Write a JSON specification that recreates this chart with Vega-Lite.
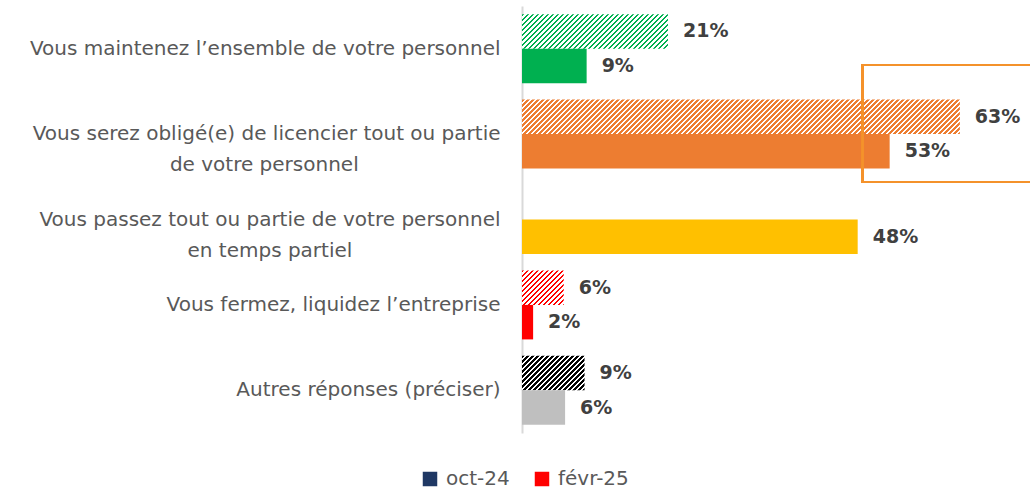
{
  "$schema": "https://vega.github.io/schema/vega-lite/v6.json",
  "autosize": "none",
  "width": 486.5,
  "height": 427,
  "padding": {"left": 522, "top": 6, "right": 21.5, "bottom": 56},
  "background": "white",
  "config": {"view": {"stroke": null}},
  "data": {"values": [
    {"c": "Vous maintenez l’ensemble de votre personnel", "s": "oct-24", "v": 0.21},
    {"c": "Vous maintenez l’ensemble de votre personnel", "s": "févr-25", "v": 0.093},
    {"c": "Vous serez obligé(e) de licencier tout ou partie de votre personnel", "s": "oct-24", "v": 0.63},
    {"c": "Vous serez obligé(e) de licencier tout ou partie de votre personnel", "s": "févr-25", "v": 0.529},
    {"c": "Vous passez tout ou partie de votre personnel en temps partiel", "s": "févr-25", "v": 0.483},
    {"c": "Vous fermez, liquidez l’entreprise", "s": "oct-24", "v": 0.06},
    {"c": "Vous fermez, liquidez l’entreprise", "s": "févr-25", "v": 0.016},
    {"c": "Autres réponses (préciser)", "s": "oct-24", "v": 0.09},
    {"c": "Autres réponses (préciser)", "s": "févr-25", "v": 0.062}
  ]},
  "layer": [
    {
      "mark": {"type": "bar"},
      "encoding": {
        "y": {"field": "c", "type": "nominal", "sort": null, "title": null,
          "scale": {"domain": ["Vous maintenez l’ensemble de votre personnel", "Vous serez obligé(e) de licencier tout ou partie de votre personnel", "Vous passez tout ou partie de votre personnel en temps partiel", "Vous fermez, liquidez l’entreprise", "Autres réponses (préciser)"], "paddingInner": 0.192, "paddingOuter": 0.096},
          "axis": {"title": null, "domainColor": "#d9d9d9", "domainWidth": 2, "ticks": false, "tickSize": 0, "labelPadding": 22, "labelFont": "DejaVu Sans", "labelFontSize": 20, "labelColor": "#595959", "labelLineHeight": 31, "labelLimit": 0,
            "labelExpr": "datum.value === 'Vous serez obligé(e) de licencier tout ou partie de votre personnel' ? ['Vous serez obligé(e) de licencier tout ou partie', 'de votre personnel\u00a0\u00a0\u00a0\u00a0\u00a0\u00a0\u00a0\u00a0\u00a0\u00a0\u00a0\u00a0\u00a0\u00a0\u00a0\u00a0\u00a0\u00a0\u00a0\u00a0\u2800'] : datum.value === 'Vous passez tout ou partie de votre personnel en temps partiel' ? ['Vous passez tout ou partie de votre personnel', 'en temps partiel\u00a0\u00a0\u00a0\u00a0\u00a0\u00a0\u00a0\u00a0\u00a0\u00a0\u00a0\u00a0\u00a0\u00a0\u00a0\u00a0\u00a0\u00a0\u00a0\u00a0\u00a0\u2800'] : datum.value"}},
        "yOffset": {"field": "s", "type": "nominal", "scale": {"domain": ["oct-24", "févr-25"]}},
        "x": {"field": "v", "type": "quantitative", "scale": {"domain": [0, 0.7], "nice": false}, "axis": null},
        "fill": {
          "condition": [
            {"test": "datum.s === 'oct-24' && datum.c === 'Vous maintenez l’ensemble de votre personnel'", "value": {"gradient": "linear", "x1": 0, "y1": 0, "x2": 3.2445, "y2": 0.767, "stops": [
              {"offset":0,"color":"#00b050"},{"offset":0.005,"color":"#00b050"},{"offset":0.005,"color":"#fff"},{"offset":0.01,"color":"#fff"},
              {"offset":0.01,"color":"#00b050"},{"offset":0.015,"color":"#00b050"},{"offset":0.015,"color":"#fff"},{"offset":0.02,"color":"#fff"},
              {"offset":0.02,"color":"#00b050"},{"offset":0.025,"color":"#00b050"},{"offset":0.025,"color":"#fff"},{"offset":0.03,"color":"#fff"},
              {"offset":0.03,"color":"#00b050"},{"offset":0.035,"color":"#00b050"},{"offset":0.035,"color":"#fff"},{"offset":0.04,"color":"#fff"},
              {"offset":0.04,"color":"#00b050"},{"offset":0.045,"color":"#00b050"},{"offset":0.045,"color":"#fff"},{"offset":0.05,"color":"#fff"},
              {"offset":0.05,"color":"#00b050"},{"offset":0.055,"color":"#00b050"},{"offset":0.055,"color":"#fff"},{"offset":0.06,"color":"#fff"},
              {"offset":0.06,"color":"#00b050"},{"offset":0.065,"color":"#00b050"},{"offset":0.065,"color":"#fff"},{"offset":0.07,"color":"#fff"},
              {"offset":0.07,"color":"#00b050"},{"offset":0.075,"color":"#00b050"},{"offset":0.075,"color":"#fff"},{"offset":0.08,"color":"#fff"},
              {"offset":0.08,"color":"#00b050"},{"offset":0.085,"color":"#00b050"},{"offset":0.085,"color":"#fff"},{"offset":0.09,"color":"#fff"},
              {"offset":0.09,"color":"#00b050"},{"offset":0.095,"color":"#00b050"},{"offset":0.095,"color":"#fff"},{"offset":0.1,"color":"#fff"},
              {"offset":0.1,"color":"#00b050"},{"offset":0.105,"color":"#00b050"},{"offset":0.105,"color":"#fff"},{"offset":0.11,"color":"#fff"},
              {"offset":0.11,"color":"#00b050"},{"offset":0.115,"color":"#00b050"},{"offset":0.115,"color":"#fff"},{"offset":0.12,"color":"#fff"},
              {"offset":0.12,"color":"#00b050"},{"offset":0.125,"color":"#00b050"},{"offset":0.125,"color":"#fff"},{"offset":0.13,"color":"#fff"},
              {"offset":0.13,"color":"#00b050"},{"offset":0.135,"color":"#00b050"},{"offset":0.135,"color":"#fff"},{"offset":0.14,"color":"#fff"},
              {"offset":0.14,"color":"#00b050"},{"offset":0.145,"color":"#00b050"},{"offset":0.145,"color":"#fff"},{"offset":0.15,"color":"#fff"},
              {"offset":0.15,"color":"#00b050"},{"offset":0.155,"color":"#00b050"},{"offset":0.155,"color":"#fff"},{"offset":0.16,"color":"#fff"},
              {"offset":0.16,"color":"#00b050"},{"offset":0.165,"color":"#00b050"},{"offset":0.165,"color":"#fff"},{"offset":0.17,"color":"#fff"},
              {"offset":0.17,"color":"#00b050"},{"offset":0.175,"color":"#00b050"},{"offset":0.175,"color":"#fff"},{"offset":0.18,"color":"#fff"},
              {"offset":0.18,"color":"#00b050"},{"offset":0.185,"color":"#00b050"},{"offset":0.185,"color":"#fff"},{"offset":0.19,"color":"#fff"},
              {"offset":0.19,"color":"#00b050"},{"offset":0.195,"color":"#00b050"},{"offset":0.195,"color":"#fff"},{"offset":0.2,"color":"#fff"},
              {"offset":0.2,"color":"#00b050"},{"offset":0.205,"color":"#00b050"},{"offset":0.205,"color":"#fff"},{"offset":0.21,"color":"#fff"},
              {"offset":0.21,"color":"#00b050"},{"offset":0.215,"color":"#00b050"},{"offset":0.215,"color":"#fff"},{"offset":0.22,"color":"#fff"},
              {"offset":0.22,"color":"#00b050"},{"offset":0.225,"color":"#00b050"},{"offset":0.225,"color":"#fff"},{"offset":0.23,"color":"#fff"},
              {"offset":0.23,"color":"#00b050"},{"offset":0.235,"color":"#00b050"},{"offset":0.235,"color":"#fff"},{"offset":0.24,"color":"#fff"},
              {"offset":0.24,"color":"#00b050"},{"offset":0.245,"color":"#00b050"},{"offset":0.245,"color":"#fff"},{"offset":0.25,"color":"#fff"},
              {"offset":0.25,"color":"#00b050"},{"offset":0.255,"color":"#00b050"},{"offset":0.255,"color":"#fff"},{"offset":0.26,"color":"#fff"},
              {"offset":0.26,"color":"#00b050"},{"offset":0.265,"color":"#00b050"},{"offset":0.265,"color":"#fff"},{"offset":0.27,"color":"#fff"},
              {"offset":0.27,"color":"#00b050"},{"offset":0.275,"color":"#00b050"},{"offset":0.275,"color":"#fff"},{"offset":0.28,"color":"#fff"},
              {"offset":0.28,"color":"#00b050"},{"offset":0.285,"color":"#00b050"},{"offset":0.285,"color":"#fff"},{"offset":0.29,"color":"#fff"},
              {"offset":0.29,"color":"#00b050"},{"offset":0.295,"color":"#00b050"},{"offset":0.295,"color":"#fff"},{"offset":0.3,"color":"#fff"},
              {"offset":0.3,"color":"#00b050"},{"offset":0.305,"color":"#00b050"},{"offset":0.305,"color":"#fff"},{"offset":0.31,"color":"#fff"},
              {"offset":0.31,"color":"#00b050"},{"offset":0.315,"color":"#00b050"},{"offset":0.315,"color":"#fff"},{"offset":0.32,"color":"#fff"},
              {"offset":0.32,"color":"#00b050"},{"offset":0.325,"color":"#00b050"},{"offset":0.325,"color":"#fff"},{"offset":0.33,"color":"#fff"},
              {"offset":0.33,"color":"#00b050"},{"offset":0.335,"color":"#00b050"},{"offset":0.335,"color":"#fff"},{"offset":0.34,"color":"#fff"},
              {"offset":0.34,"color":"#00b050"},{"offset":0.345,"color":"#00b050"},{"offset":0.345,"color":"#fff"},{"offset":0.35,"color":"#fff"},
              {"offset":0.35,"color":"#00b050"},{"offset":0.355,"color":"#00b050"},{"offset":0.355,"color":"#fff"},{"offset":0.36,"color":"#fff"},
              {"offset":0.36,"color":"#00b050"},{"offset":0.365,"color":"#00b050"},{"offset":0.365,"color":"#fff"},{"offset":0.37,"color":"#fff"}
            ]}},
            {"test": "datum.s === 'oct-24' && datum.c === 'Vous serez obligé(e) de licencier tout ou partie de votre personnel'", "value": {"gradient": "linear", "x1": 0, "y1": 0, "x2": 1.1349, "y2": 0.0894, "stops": [
              {"offset":0,"color":"#ed7d31"},{"offset":0.005,"color":"#ed7d31"},{"offset":0.005,"color":"#fff"},{"offset":0.01,"color":"#fff"},
              {"offset":0.01,"color":"#ed7d31"},{"offset":0.015,"color":"#ed7d31"},{"offset":0.015,"color":"#fff"},{"offset":0.02,"color":"#fff"},
              {"offset":0.02,"color":"#ed7d31"},{"offset":0.025,"color":"#ed7d31"},{"offset":0.025,"color":"#fff"},{"offset":0.03,"color":"#fff"},
              {"offset":0.03,"color":"#ed7d31"},{"offset":0.035,"color":"#ed7d31"},{"offset":0.035,"color":"#fff"},{"offset":0.04,"color":"#fff"},
              {"offset":0.04,"color":"#ed7d31"},{"offset":0.045,"color":"#ed7d31"},{"offset":0.045,"color":"#fff"},{"offset":0.05,"color":"#fff"},
              {"offset":0.05,"color":"#ed7d31"},{"offset":0.055,"color":"#ed7d31"},{"offset":0.055,"color":"#fff"},{"offset":0.06,"color":"#fff"},
              {"offset":0.06,"color":"#ed7d31"},{"offset":0.065,"color":"#ed7d31"},{"offset":0.065,"color":"#fff"},{"offset":0.07,"color":"#fff"},
              {"offset":0.07,"color":"#ed7d31"},{"offset":0.075,"color":"#ed7d31"},{"offset":0.075,"color":"#fff"},{"offset":0.08,"color":"#fff"},
              {"offset":0.08,"color":"#ed7d31"},{"offset":0.085,"color":"#ed7d31"},{"offset":0.085,"color":"#fff"},{"offset":0.09,"color":"#fff"},
              {"offset":0.09,"color":"#ed7d31"},{"offset":0.095,"color":"#ed7d31"},{"offset":0.095,"color":"#fff"},{"offset":0.1,"color":"#fff"},
              {"offset":0.1,"color":"#ed7d31"},{"offset":0.105,"color":"#ed7d31"},{"offset":0.105,"color":"#fff"},{"offset":0.11,"color":"#fff"},
              {"offset":0.11,"color":"#ed7d31"},{"offset":0.115,"color":"#ed7d31"},{"offset":0.115,"color":"#fff"},{"offset":0.12,"color":"#fff"},
              {"offset":0.12,"color":"#ed7d31"},{"offset":0.125,"color":"#ed7d31"},{"offset":0.125,"color":"#fff"},{"offset":0.13,"color":"#fff"},
              {"offset":0.13,"color":"#ed7d31"},{"offset":0.135,"color":"#ed7d31"},{"offset":0.135,"color":"#fff"},{"offset":0.14,"color":"#fff"},
              {"offset":0.14,"color":"#ed7d31"},{"offset":0.145,"color":"#ed7d31"},{"offset":0.145,"color":"#fff"},{"offset":0.15,"color":"#fff"},
              {"offset":0.15,"color":"#ed7d31"},{"offset":0.155,"color":"#ed7d31"},{"offset":0.155,"color":"#fff"},{"offset":0.16,"color":"#fff"},
              {"offset":0.16,"color":"#ed7d31"},{"offset":0.165,"color":"#ed7d31"},{"offset":0.165,"color":"#fff"},{"offset":0.17,"color":"#fff"},
              {"offset":0.17,"color":"#ed7d31"},{"offset":0.175,"color":"#ed7d31"},{"offset":0.175,"color":"#fff"},{"offset":0.18,"color":"#fff"},
              {"offset":0.18,"color":"#ed7d31"},{"offset":0.185,"color":"#ed7d31"},{"offset":0.185,"color":"#fff"},{"offset":0.19,"color":"#fff"},
              {"offset":0.19,"color":"#ed7d31"},{"offset":0.195,"color":"#ed7d31"},{"offset":0.195,"color":"#fff"},{"offset":0.2,"color":"#fff"},
              {"offset":0.2,"color":"#ed7d31"},{"offset":0.205,"color":"#ed7d31"},{"offset":0.205,"color":"#fff"},{"offset":0.21,"color":"#fff"},
              {"offset":0.21,"color":"#ed7d31"},{"offset":0.215,"color":"#ed7d31"},{"offset":0.215,"color":"#fff"},{"offset":0.22,"color":"#fff"},
              {"offset":0.22,"color":"#ed7d31"},{"offset":0.225,"color":"#ed7d31"},{"offset":0.225,"color":"#fff"},{"offset":0.23,"color":"#fff"},
              {"offset":0.23,"color":"#ed7d31"},{"offset":0.235,"color":"#ed7d31"},{"offset":0.235,"color":"#fff"},{"offset":0.24,"color":"#fff"},
              {"offset":0.24,"color":"#ed7d31"},{"offset":0.245,"color":"#ed7d31"},{"offset":0.245,"color":"#fff"},{"offset":0.25,"color":"#fff"},
              {"offset":0.25,"color":"#ed7d31"},{"offset":0.255,"color":"#ed7d31"},{"offset":0.255,"color":"#fff"},{"offset":0.26,"color":"#fff"},
              {"offset":0.26,"color":"#ed7d31"},{"offset":0.265,"color":"#ed7d31"},{"offset":0.265,"color":"#fff"},{"offset":0.27,"color":"#fff"},
              {"offset":0.27,"color":"#ed7d31"},{"offset":0.275,"color":"#ed7d31"},{"offset":0.275,"color":"#fff"},{"offset":0.28,"color":"#fff"},
              {"offset":0.28,"color":"#ed7d31"},{"offset":0.285,"color":"#ed7d31"},{"offset":0.285,"color":"#fff"},{"offset":0.29,"color":"#fff"},
              {"offset":0.29,"color":"#ed7d31"},{"offset":0.295,"color":"#ed7d31"},{"offset":0.295,"color":"#fff"},{"offset":0.3,"color":"#fff"},
              {"offset":0.3,"color":"#ed7d31"},{"offset":0.305,"color":"#ed7d31"},{"offset":0.305,"color":"#fff"},{"offset":0.31,"color":"#fff"},
              {"offset":0.31,"color":"#ed7d31"},{"offset":0.315,"color":"#ed7d31"},{"offset":0.315,"color":"#fff"},{"offset":0.32,"color":"#fff"},
              {"offset":0.32,"color":"#ed7d31"},{"offset":0.325,"color":"#ed7d31"},{"offset":0.325,"color":"#fff"},{"offset":0.33,"color":"#fff"},
              {"offset":0.33,"color":"#ed7d31"},{"offset":0.335,"color":"#ed7d31"},{"offset":0.335,"color":"#fff"},{"offset":0.34,"color":"#fff"},
              {"offset":0.34,"color":"#ed7d31"},{"offset":0.345,"color":"#ed7d31"},{"offset":0.345,"color":"#fff"},{"offset":0.35,"color":"#fff"},
              {"offset":0.35,"color":"#ed7d31"},{"offset":0.355,"color":"#ed7d31"},{"offset":0.355,"color":"#fff"},{"offset":0.36,"color":"#fff"},
              {"offset":0.36,"color":"#ed7d31"},{"offset":0.365,"color":"#ed7d31"},{"offset":0.365,"color":"#fff"},{"offset":0.37,"color":"#fff"},
              {"offset":0.37,"color":"#ed7d31"},{"offset":0.375,"color":"#ed7d31"},{"offset":0.375,"color":"#fff"},{"offset":0.38,"color":"#fff"},
              {"offset":0.38,"color":"#ed7d31"},{"offset":0.385,"color":"#ed7d31"},{"offset":0.385,"color":"#fff"},{"offset":0.39,"color":"#fff"},
              {"offset":0.39,"color":"#ed7d31"},{"offset":0.395,"color":"#ed7d31"},{"offset":0.395,"color":"#fff"},{"offset":0.4,"color":"#fff"},
              {"offset":0.4,"color":"#ed7d31"},{"offset":0.405,"color":"#ed7d31"},{"offset":0.405,"color":"#fff"},{"offset":0.41,"color":"#fff"},
              {"offset":0.41,"color":"#ed7d31"},{"offset":0.415,"color":"#ed7d31"},{"offset":0.415,"color":"#fff"},{"offset":0.42,"color":"#fff"},
              {"offset":0.42,"color":"#ed7d31"},{"offset":0.425,"color":"#ed7d31"},{"offset":0.425,"color":"#fff"},{"offset":0.43,"color":"#fff"},
              {"offset":0.43,"color":"#ed7d31"},{"offset":0.435,"color":"#ed7d31"},{"offset":0.435,"color":"#fff"},{"offset":0.44,"color":"#fff"},
              {"offset":0.44,"color":"#ed7d31"},{"offset":0.445,"color":"#ed7d31"},{"offset":0.445,"color":"#fff"},{"offset":0.45,"color":"#fff"},
              {"offset":0.45,"color":"#ed7d31"},{"offset":0.455,"color":"#ed7d31"},{"offset":0.455,"color":"#fff"},{"offset":0.46,"color":"#fff"},
              {"offset":0.46,"color":"#ed7d31"},{"offset":0.465,"color":"#ed7d31"},{"offset":0.465,"color":"#fff"},{"offset":0.47,"color":"#fff"},
              {"offset":0.47,"color":"#ed7d31"},{"offset":0.475,"color":"#ed7d31"},{"offset":0.475,"color":"#fff"},{"offset":0.48,"color":"#fff"},
              {"offset":0.48,"color":"#ed7d31"},{"offset":0.485,"color":"#ed7d31"},{"offset":0.485,"color":"#fff"},{"offset":0.49,"color":"#fff"},
              {"offset":0.49,"color":"#ed7d31"},{"offset":0.495,"color":"#ed7d31"},{"offset":0.495,"color":"#fff"},{"offset":0.5,"color":"#fff"},
              {"offset":0.5,"color":"#ed7d31"},{"offset":0.505,"color":"#ed7d31"},{"offset":0.505,"color":"#fff"},{"offset":0.51,"color":"#fff"},
              {"offset":0.51,"color":"#ed7d31"},{"offset":0.515,"color":"#ed7d31"},{"offset":0.515,"color":"#fff"},{"offset":0.52,"color":"#fff"},
              {"offset":0.52,"color":"#ed7d31"},{"offset":0.525,"color":"#ed7d31"},{"offset":0.525,"color":"#fff"},{"offset":0.53,"color":"#fff"},
              {"offset":0.53,"color":"#ed7d31"},{"offset":0.535,"color":"#ed7d31"},{"offset":0.535,"color":"#fff"},{"offset":0.54,"color":"#fff"},
              {"offset":0.54,"color":"#ed7d31"},{"offset":0.545,"color":"#ed7d31"},{"offset":0.545,"color":"#fff"},{"offset":0.55,"color":"#fff"},
              {"offset":0.55,"color":"#ed7d31"},{"offset":0.555,"color":"#ed7d31"},{"offset":0.555,"color":"#fff"},{"offset":0.56,"color":"#fff"},
              {"offset":0.56,"color":"#ed7d31"},{"offset":0.565,"color":"#ed7d31"},{"offset":0.565,"color":"#fff"},{"offset":0.57,"color":"#fff"},
              {"offset":0.57,"color":"#ed7d31"},{"offset":0.575,"color":"#ed7d31"},{"offset":0.575,"color":"#fff"},{"offset":0.58,"color":"#fff"},
              {"offset":0.58,"color":"#ed7d31"},{"offset":0.585,"color":"#ed7d31"},{"offset":0.585,"color":"#fff"},{"offset":0.59,"color":"#fff"},
              {"offset":0.59,"color":"#ed7d31"},{"offset":0.595,"color":"#ed7d31"},{"offset":0.595,"color":"#fff"},{"offset":0.6,"color":"#fff"},
              {"offset":0.6,"color":"#ed7d31"},{"offset":0.605,"color":"#ed7d31"},{"offset":0.605,"color":"#fff"},{"offset":0.61,"color":"#fff"},
              {"offset":0.61,"color":"#ed7d31"},{"offset":0.615,"color":"#ed7d31"},{"offset":0.615,"color":"#fff"},{"offset":0.62,"color":"#fff"},
              {"offset":0.62,"color":"#ed7d31"},{"offset":0.625,"color":"#ed7d31"},{"offset":0.625,"color":"#fff"},{"offset":0.63,"color":"#fff"},
              {"offset":0.63,"color":"#ed7d31"},{"offset":0.635,"color":"#ed7d31"},{"offset":0.635,"color":"#fff"},{"offset":0.64,"color":"#fff"},
              {"offset":0.64,"color":"#ed7d31"},{"offset":0.645,"color":"#ed7d31"},{"offset":0.645,"color":"#fff"},{"offset":0.65,"color":"#fff"},
              {"offset":0.65,"color":"#ed7d31"},{"offset":0.655,"color":"#ed7d31"},{"offset":0.655,"color":"#fff"},{"offset":0.66,"color":"#fff"},
              {"offset":0.66,"color":"#ed7d31"},{"offset":0.665,"color":"#ed7d31"},{"offset":0.665,"color":"#fff"},{"offset":0.67,"color":"#fff"},
              {"offset":0.67,"color":"#ed7d31"},{"offset":0.675,"color":"#ed7d31"},{"offset":0.675,"color":"#fff"},{"offset":0.68,"color":"#fff"},
              {"offset":0.68,"color":"#ed7d31"},{"offset":0.685,"color":"#ed7d31"},{"offset":0.685,"color":"#fff"},{"offset":0.69,"color":"#fff"},
              {"offset":0.69,"color":"#ed7d31"},{"offset":0.695,"color":"#ed7d31"},{"offset":0.695,"color":"#fff"},{"offset":0.7,"color":"#fff"},
              {"offset":0.7,"color":"#ed7d31"},{"offset":0.705,"color":"#ed7d31"},{"offset":0.705,"color":"#fff"},{"offset":0.71,"color":"#fff"},
              {"offset":0.71,"color":"#ed7d31"},{"offset":0.715,"color":"#ed7d31"},{"offset":0.715,"color":"#fff"},{"offset":0.72,"color":"#fff"},
              {"offset":0.72,"color":"#ed7d31"},{"offset":0.725,"color":"#ed7d31"},{"offset":0.725,"color":"#fff"},{"offset":0.73,"color":"#fff"},
              {"offset":0.73,"color":"#ed7d31"},{"offset":0.735,"color":"#ed7d31"},{"offset":0.735,"color":"#fff"},{"offset":0.74,"color":"#fff"},
              {"offset":0.74,"color":"#ed7d31"},{"offset":0.745,"color":"#ed7d31"},{"offset":0.745,"color":"#fff"},{"offset":0.75,"color":"#fff"},
              {"offset":0.75,"color":"#ed7d31"},{"offset":0.755,"color":"#ed7d31"},{"offset":0.755,"color":"#fff"},{"offset":0.76,"color":"#fff"},
              {"offset":0.76,"color":"#ed7d31"},{"offset":0.765,"color":"#ed7d31"},{"offset":0.765,"color":"#fff"},{"offset":0.77,"color":"#fff"},
              {"offset":0.77,"color":"#ed7d31"},{"offset":0.775,"color":"#ed7d31"},{"offset":0.775,"color":"#fff"},{"offset":0.78,"color":"#fff"},
              {"offset":0.78,"color":"#ed7d31"},{"offset":0.785,"color":"#ed7d31"},{"offset":0.785,"color":"#fff"},{"offset":0.79,"color":"#fff"},
              {"offset":0.79,"color":"#ed7d31"},{"offset":0.795,"color":"#ed7d31"},{"offset":0.795,"color":"#fff"},{"offset":0.8,"color":"#fff"},
              {"offset":0.8,"color":"#ed7d31"},{"offset":0.805,"color":"#ed7d31"},{"offset":0.805,"color":"#fff"},{"offset":0.81,"color":"#fff"},
              {"offset":0.81,"color":"#ed7d31"},{"offset":0.815,"color":"#ed7d31"},{"offset":0.815,"color":"#fff"},{"offset":0.82,"color":"#fff"},
              {"offset":0.82,"color":"#ed7d31"},{"offset":0.825,"color":"#ed7d31"},{"offset":0.825,"color":"#fff"},{"offset":0.83,"color":"#fff"},
              {"offset":0.83,"color":"#ed7d31"},{"offset":0.835,"color":"#ed7d31"},{"offset":0.835,"color":"#fff"},{"offset":0.84,"color":"#fff"},
              {"offset":0.84,"color":"#ed7d31"},{"offset":0.845,"color":"#ed7d31"},{"offset":0.845,"color":"#fff"},{"offset":0.85,"color":"#fff"},
              {"offset":0.85,"color":"#ed7d31"},{"offset":0.855,"color":"#ed7d31"},{"offset":0.855,"color":"#fff"},{"offset":0.86,"color":"#fff"},
              {"offset":0.86,"color":"#ed7d31"},{"offset":0.865,"color":"#ed7d31"},{"offset":0.865,"color":"#fff"},{"offset":0.87,"color":"#fff"},
              {"offset":0.87,"color":"#ed7d31"},{"offset":0.875,"color":"#ed7d31"},{"offset":0.875,"color":"#fff"},{"offset":0.88,"color":"#fff"},
              {"offset":0.88,"color":"#ed7d31"},{"offset":0.885,"color":"#ed7d31"},{"offset":0.885,"color":"#fff"},{"offset":0.89,"color":"#fff"},
              {"offset":0.89,"color":"#ed7d31"},{"offset":0.895,"color":"#ed7d31"},{"offset":0.895,"color":"#fff"},{"offset":0.9,"color":"#fff"},
              {"offset":0.9,"color":"#ed7d31"},{"offset":0.905,"color":"#ed7d31"},{"offset":0.905,"color":"#fff"},{"offset":0.91,"color":"#fff"},
              {"offset":0.91,"color":"#ed7d31"},{"offset":0.915,"color":"#ed7d31"},{"offset":0.915,"color":"#fff"},{"offset":0.92,"color":"#fff"},
              {"offset":0.92,"color":"#ed7d31"},{"offset":0.925,"color":"#ed7d31"},{"offset":0.925,"color":"#fff"},{"offset":0.93,"color":"#fff"},
              {"offset":0.93,"color":"#ed7d31"},{"offset":0.935,"color":"#ed7d31"},{"offset":0.935,"color":"#fff"},{"offset":0.94,"color":"#fff"},
              {"offset":0.94,"color":"#ed7d31"},{"offset":0.945,"color":"#ed7d31"},{"offset":0.945,"color":"#fff"},{"offset":0.95,"color":"#fff"}
            ]}},
            {"test": "datum.s === 'oct-24' && datum.c === 'Vous fermez, liquidez l’entreprise'", "value": {"gradient": "linear", "x1": 0, "y1": 0, "x2": 7.1182, "y2": 5.8892, "stops": [
              {"offset":0,"color":"#ff0000"},{"offset":0.005,"color":"#ff0000"},{"offset":0.005,"color":"#fff"},{"offset":0.01,"color":"#fff"},
              {"offset":0.01,"color":"#ff0000"},{"offset":0.015,"color":"#ff0000"},{"offset":0.015,"color":"#fff"},{"offset":0.02,"color":"#fff"},
              {"offset":0.02,"color":"#ff0000"},{"offset":0.025,"color":"#ff0000"},{"offset":0.025,"color":"#fff"},{"offset":0.03,"color":"#fff"},
              {"offset":0.03,"color":"#ff0000"},{"offset":0.035,"color":"#ff0000"},{"offset":0.035,"color":"#fff"},{"offset":0.04,"color":"#fff"},
              {"offset":0.04,"color":"#ff0000"},{"offset":0.045,"color":"#ff0000"},{"offset":0.045,"color":"#fff"},{"offset":0.05,"color":"#fff"},
              {"offset":0.05,"color":"#ff0000"},{"offset":0.055,"color":"#ff0000"},{"offset":0.055,"color":"#fff"},{"offset":0.06,"color":"#fff"},
              {"offset":0.06,"color":"#ff0000"},{"offset":0.065,"color":"#ff0000"},{"offset":0.065,"color":"#fff"},{"offset":0.07,"color":"#fff"},
              {"offset":0.07,"color":"#ff0000"},{"offset":0.075,"color":"#ff0000"},{"offset":0.075,"color":"#fff"},{"offset":0.08,"color":"#fff"},
              {"offset":0.08,"color":"#ff0000"},{"offset":0.085,"color":"#ff0000"},{"offset":0.085,"color":"#fff"},{"offset":0.09,"color":"#fff"},
              {"offset":0.09,"color":"#ff0000"},{"offset":0.095,"color":"#ff0000"},{"offset":0.095,"color":"#fff"},{"offset":0.1,"color":"#fff"},
              {"offset":0.1,"color":"#ff0000"},{"offset":0.105,"color":"#ff0000"},{"offset":0.105,"color":"#fff"},{"offset":0.11,"color":"#fff"},
              {"offset":0.11,"color":"#ff0000"},{"offset":0.115,"color":"#ff0000"},{"offset":0.115,"color":"#fff"},{"offset":0.12,"color":"#fff"},
              {"offset":0.12,"color":"#ff0000"},{"offset":0.125,"color":"#ff0000"},{"offset":0.125,"color":"#fff"},{"offset":0.13,"color":"#fff"},
              {"offset":0.13,"color":"#ff0000"},{"offset":0.135,"color":"#ff0000"},{"offset":0.135,"color":"#fff"},{"offset":0.14,"color":"#fff"},
              {"offset":0.14,"color":"#ff0000"},{"offset":0.145,"color":"#ff0000"},{"offset":0.145,"color":"#fff"},{"offset":0.15,"color":"#fff"},
              {"offset":0.15,"color":"#ff0000"},{"offset":0.155,"color":"#ff0000"},{"offset":0.155,"color":"#fff"},{"offset":0.16,"color":"#fff"}
            ]}},
            {"test": "datum.s === 'oct-24' && datum.c === 'Autres réponses (préciser)'", "value": {"gradient": "linear", "x1": 0, "y1": 0, "x2": 6.1291, "y2": 3.3806, "stops": [
              {"offset":0,"color":"#000"},{"offset":0.005,"color":"#000"},{"offset":0.005,"color":"#fff"},{"offset":0.01,"color":"#fff"},
              {"offset":0.01,"color":"#000"},{"offset":0.015,"color":"#000"},{"offset":0.015,"color":"#fff"},{"offset":0.02,"color":"#fff"},
              {"offset":0.02,"color":"#000"},{"offset":0.025,"color":"#000"},{"offset":0.025,"color":"#fff"},{"offset":0.03,"color":"#fff"},
              {"offset":0.03,"color":"#000"},{"offset":0.035,"color":"#000"},{"offset":0.035,"color":"#fff"},{"offset":0.04,"color":"#fff"},
              {"offset":0.04,"color":"#000"},{"offset":0.045,"color":"#000"},{"offset":0.045,"color":"#fff"},{"offset":0.05,"color":"#fff"},
              {"offset":0.05,"color":"#000"},{"offset":0.055,"color":"#000"},{"offset":0.055,"color":"#fff"},{"offset":0.06,"color":"#fff"},
              {"offset":0.06,"color":"#000"},{"offset":0.065,"color":"#000"},{"offset":0.065,"color":"#fff"},{"offset":0.07,"color":"#fff"},
              {"offset":0.07,"color":"#000"},{"offset":0.075,"color":"#000"},{"offset":0.075,"color":"#fff"},{"offset":0.08,"color":"#fff"},
              {"offset":0.08,"color":"#000"},{"offset":0.085,"color":"#000"},{"offset":0.085,"color":"#fff"},{"offset":0.09,"color":"#fff"},
              {"offset":0.09,"color":"#000"},{"offset":0.095,"color":"#000"},{"offset":0.095,"color":"#fff"},{"offset":0.1,"color":"#fff"},
              {"offset":0.1,"color":"#000"},{"offset":0.105,"color":"#000"},{"offset":0.105,"color":"#fff"},{"offset":0.11,"color":"#fff"},
              {"offset":0.11,"color":"#000"},{"offset":0.115,"color":"#000"},{"offset":0.115,"color":"#fff"},{"offset":0.12,"color":"#fff"},
              {"offset":0.12,"color":"#000"},{"offset":0.125,"color":"#000"},{"offset":0.125,"color":"#fff"},{"offset":0.13,"color":"#fff"},
              {"offset":0.13,"color":"#000"},{"offset":0.135,"color":"#000"},{"offset":0.135,"color":"#fff"},{"offset":0.14,"color":"#fff"},
              {"offset":0.14,"color":"#000"},{"offset":0.145,"color":"#000"},{"offset":0.145,"color":"#fff"},{"offset":0.15,"color":"#fff"},
              {"offset":0.15,"color":"#000"},{"offset":0.155,"color":"#000"},{"offset":0.155,"color":"#fff"},{"offset":0.16,"color":"#fff"},
              {"offset":0.16,"color":"#000"},{"offset":0.165,"color":"#000"},{"offset":0.165,"color":"#fff"},{"offset":0.17,"color":"#fff"},
              {"offset":0.17,"color":"#000"},{"offset":0.175,"color":"#000"},{"offset":0.175,"color":"#fff"},{"offset":0.18,"color":"#fff"},
              {"offset":0.18,"color":"#000"},{"offset":0.185,"color":"#000"},{"offset":0.185,"color":"#fff"},{"offset":0.19,"color":"#fff"},
              {"offset":0.19,"color":"#000"},{"offset":0.195,"color":"#000"},{"offset":0.195,"color":"#fff"},{"offset":0.2,"color":"#fff"}
            ]}}
          ],
          "field": "c", "type": "nominal",
          "scale": {"domain": ["Vous maintenez l’ensemble de votre personnel", "Vous serez obligé(e) de licencier tout ou partie de votre personnel", "Vous passez tout ou partie de votre personnel en temps partiel", "Vous fermez, liquidez l’entreprise", "Autres réponses (préciser)"], "range": ["#00b050", "#ed7d31", "#ffc000", "#ff0000", "#bfbfbf"]},
          "legend": null
        }
      }
    },
    {
      "mark": {"type": "text", "align": "left", "baseline": "middle", "dx": 15, "font": "DejaVu Sans", "fontWeight": "bold", "fontSize": 19, "color": "#404040"},
      "encoding": {
        "y": {"field": "c", "type": "nominal", "sort": null},
        "yOffset": {"field": "s", "type": "nominal", "scale": {"domain": ["oct-24", "févr-25"]}},
        "x": {"field": "v", "type": "quantitative"},
        "text": {"field": "v", "type": "quantitative", "format": ".0%"}
      }
    },
    {
      "mark": {"type": "point", "filled": true, "opacity": 0},
      "encoding": {
        "y": {"field": "c", "type": "nominal", "sort": null},
        "yOffset": {"field": "s", "type": "nominal", "scale": {"domain": ["oct-24", "févr-25"]}},
        "x": {"field": "v", "type": "quantitative"},
        "color": {"field": "s", "type": "nominal",
          "scale": {"domain": ["oct-24", "févr-25"], "range": ["#1f3864", "#ff0000"]},
          "legend": {"title": null, "orient": "none", "legendX": -102, "legendY": 463, "direction": "horizontal", "symbolType": "square", "symbolSize": 210, "symbolOpacity": 1, "symbolStrokeWidth": 0, "labelFont": "DejaVu Sans", "labelFontSize": 20, "labelColor": "#595959", "labelOffset": 6, "columnPadding": 22, "padding": 0}
        }
      }
    },
    {
      "mark": {"type": "bar", "fill": "transparent", "stroke": "#f4922b", "strokeWidth": 2, "height": {"band": 1.696}, "yOffset": -10.5},
      "encoding": {
        "y": {"datum": "Vous serez obligé(e) de licencier tout ou partie de votre personnel", "type": "nominal"},
        "x": {"datum": 0.49, "type": "quantitative"},
        "x2": {"datum": 0.8}
      }
    }
  ]
}
